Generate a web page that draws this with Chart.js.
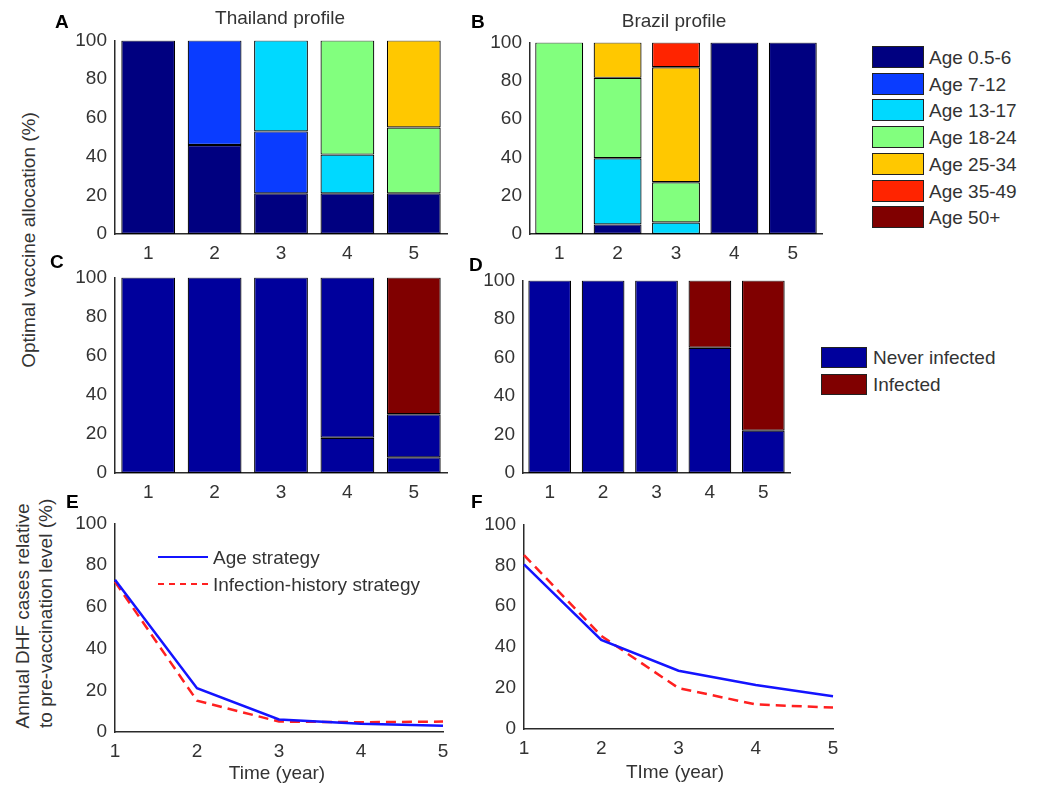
<!DOCTYPE html>
<html>
<head>
<meta charset="utf-8">
<script src="https://cdn.jsdelivr.net/npm/chart.js@4.4.1/dist/chart.umd.min.js"></script>
<style>
  body { margin: 0; background: #fff; }
  #page { position: relative; width: 1050px; height: 794px; overflow: hidden; font-family: 'Liberation Sans', Arial, sans-serif; color: #333; }
  canvas { position: absolute; }
  .txt { position: absolute; white-space: pre; font-size: 19px; line-height: 1; }
  .tag { position: absolute; font-weight: bold; font-size: 19px; line-height: 1; color: #000; }
  .swatch { position: absolute; box-sizing: border-box; border: 1.5px solid #222; }
</style>
</head>
<body>
<div id="page">
  <canvas id="chartA"></canvas>
  <canvas id="chartB"></canvas>
  <canvas id="chartC"></canvas>
  <canvas id="chartD"></canvas>
  <canvas id="chartE"></canvas>
  <canvas id="chartF"></canvas>
</div>
<script>
const years = ['1', '2', '3', '4', '5']

const ageGroups = ['Age 0.5-6', 'Age 7-12', 'Age 13-17', 'Age 18-24', 'Age 25-34', 'Age 35-49', 'Age 50+']
const ageColors = ['#000080', '#0a3cff', '#00d9ff', '#82ff7e', '#ffc800', '#ff2400', '#800000']

// vaccine share per age group (rows) for years 1..5
const thailandAge = [
  [100, 46, 21, 21, 21],
  [null, 54, 32, null, null],
  [null, null, 47, 20, null],
  [null, null, null, 59, 34],
  [null, null, null, null, 45],
  [null, null, null, null, null],
  [null, null, null, null, null]
]
const brazilAge = [
  [null, 5, null, 100, 100],
  [null, null, null, null, null],
  [null, 34.5, 6, null, null],
  [100, 42, 21, null, null],
  [null, 18.5, 60, null, null],
  [null, null, 13, null, null],
  [null, null, null, null, null]
]

const historyGroups = ['Never infected', 'Infected']
const historyColors = ['#00009c', '#800000']
// never infected comes in two stacked pieces in the original (edge visible)
const thailandNeverLow = [100, 100, 100, 18, 8]
const thailandNeverHigh = [null, null, null, 82, 22]
const thailandInfected = [null, null, null, null, 70]
const brazilNever = [100, 100, 100, 65, 22]
const brazilInfected = [null, null, null, 35, 78]

const strategies = ['Age strategy', 'Infection-history strategy']
const thailandAgeDHF = [73, 21, 6, 4, 3]
const thailandHistoryDHF = [72, 15, 5, 4.7, 5]
const brazilAgeDHF = [80.5, 43.5, 28.5, 21.5, 16]
const brazilHistoryDHF = [85, 45.5, 20, 12, 10.5]

Chart.defaults.font.family = "'Liberation Sans', Arial, sans-serif"
Chart.defaults.color = '#333'

const M = { l: 52, r: 10, t: 10, b: 32 }
const page = document.getElementById('page')

function mount(id, box) {
  const c = document.getElementById(id)
  c.width = box.w + M.l + M.r
  c.height = box.h + M.t + M.b
  c.style.left = box.x - M.l + 'px'
  c.style.top = box.y - M.t + 'px'
  return c
}

function scales(barMode) {
  const border = { color: '#2a2a2a', width: 1.5 }
  const font = { size: 19 }
  return {
    x: {
      stacked: barMode,
      offset: barMode,
      grid: { display: false },
      border,
      ticks: { font, color: '#333', padding: 0, maxRotation: 0 },
      afterFit: s => { s.height = M.b }
    },
    y: {
      stacked: barMode,
      min: 0,
      max: 100,
      grid: { display: false },
      border,
      ticks: { font, color: '#333', stepSize: 20, padding: 0 },
      afterFit: s => { s.width = M.l }
    }
  }
}

const baseOptions = barMode => ({
  responsive: false,
  animation: false,
  layout: { padding: { top: M.t, right: M.r } },
  plugins: { legend: { display: false }, tooltip: { enabled: false } },
  scales: scales(barMode)
})

function barChart(id, box, labels, colors, series, pct) {
  return new Chart(mount(id, box), {
    type: 'bar',
    data: {
      labels: years,
      datasets: series.map((data, i) => ({
        label: labels[i],
        data,
        backgroundColor: colors[i],
        borderColor: '#000',
        borderWidth: 1.2,
        borderSkipped: false,
        barPercentage: pct,
        categoryPercentage: 1
      }))
    },
    options: baseOptions(true)
  })
}

function lineChart(id, box, ageData, historyData) {
  return new Chart(mount(id, box), {
    type: 'line',
    data: {
      labels: years,
      datasets: [
        { label: strategies[0], data: ageData, borderColor: '#1414ff', borderWidth: 2.5, pointRadius: 0, tension: 0 },
        { label: strategies[1], data: historyData, borderColor: '#ff2020', borderWidth: 2.5, borderDash: [10, 6], pointRadius: 0, tension: 0 }
      ]
    },
    options: baseOptions(false)
  })
}

barChart('chartA', { x: 115, y: 39, w: 332, h: 195 }, ageGroups, ageColors, thailandAge, 0.81)
barChart('chartB', { x: 530, y: 41, w: 292, h: 193 }, ageGroups, ageColors, brazilAge, 0.82)
barChart('chartC', { x: 115, y: 276, w: 332, h: 197 },
  [historyGroups[0], historyGroups[0], historyGroups[1]],
  [historyColors[0], historyColors[0], historyColors[1]],
  [thailandNeverLow, thailandNeverHigh, thailandInfected], 0.81)
barChart('chartD', { x: 523, y: 279, w: 267, h: 194 }, historyGroups, historyColors, [brazilNever, brazilInfected], 0.8)
lineChart('chartE', { x: 115, y: 522, w: 328, h: 210 }, thailandAgeDHF, thailandHistoryDHF)
lineChart('chartF', { x: 524, y: 523, w: 309, h: 206 }, brazilAgeDHF, brazilHistoryDHF)

// ---- text and legends ----
function addDiv(cls, text, css) {
  const d = document.createElement('div')
  d.className = cls
  d.textContent = text
  Object.assign(d.style, css)
  page.appendChild(d)
  return d
}

function centered(text, x, y, rotate) {
  return addDiv('txt', text, {
    left: x + 'px', top: y + 'px', textAlign: 'center',
    transform: 'translate(-50%, -50%)' + (rotate ? ' rotate(-90deg)' : '')
  })
}

;[['A', 55, 12], ['B', 471, 12], ['C', 50, 252], ['D', 469, 255], ['E', 66, 492], ['F', 471, 492]]
  .forEach(([t, x, y]) => addDiv('tag', t, { left: x + 'px', top: y + 'px' }))

centered('Thailand profile', 280, 17)
centered('Brazil profile', 674, 20)
centered('Optimal vaccine allocation (%)', 28, 240, true)
const dhf = centered('Annual DHF cases relative\n to pre-vaccination level (%)', 34, 616, true)
dhf.style.lineHeight = '23px'
centered('Time (year)', 277, 772)
centered('TIme (year)', 675, 771)

ageGroups.forEach((g, i) => {
  const top = 46 + i * 26.7
  addDiv('swatch', '', { left: '872px', top: top + 'px', width: '52px', height: '22px', background: ageColors[i] })
  addDiv('txt', g, { left: '929px', top: top + 11 + 'px', transform: 'translateY(-50%)' })
})

historyGroups.forEach((g, i) => {
  const top = 347 + i * 26.5
  addDiv('swatch', '', { left: '821px', top: top + 'px', width: '46px', height: '21px', background: historyColors[i] })
  addDiv('txt', g, { left: '873px', top: top + 10 + 'px', transform: 'translateY(-50%)' })
})

const strategyStyles = ['2.5px solid #1414ff', '2.5px dashed #ff2020']
strategies.forEach((s, i) => {
  const y = 557 + i * 27
  addDiv('txt', '', { left: '158px', top: y - 1 + 'px', width: '50px', height: '0', borderTop: strategyStyles[i] })
  addDiv('txt', s, { left: '213px', top: y + 'px', transform: 'translateY(-50%)' })
})
</script>
</body>
</html>
